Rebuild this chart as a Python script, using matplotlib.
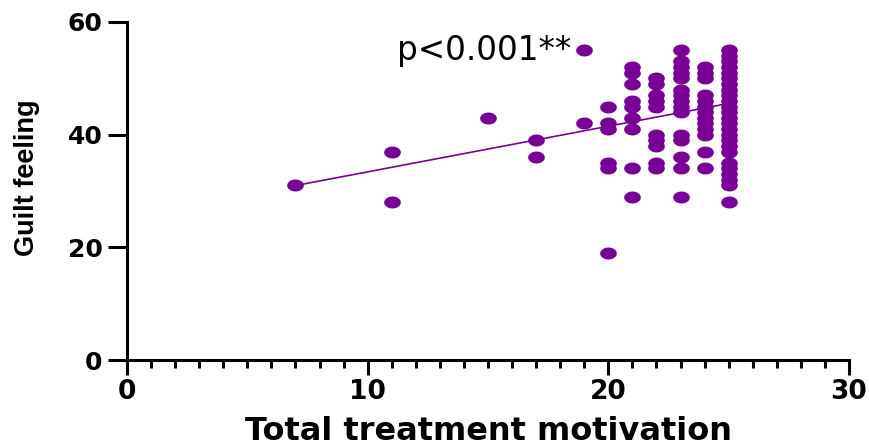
import matplotlib
matplotlib.use("Agg")
import matplotlib.pyplot as plt
from matplotlib.path import Path
import numpy as np

# values
x_vals = [7, 11, 11, 15, 17, 17, 19, 19]
y_vals = [31, 37, 28, 43, 39, 36, 55, 42]

col_x = [20, 21, 22, 23, 24, 25]
col_y = [
    [45, 42, 41, 35, 34, 19],
    [52, 51, 49, 46, 45, 43, 41, 34, 29],
    [50, 49, 47, 46, 45, 40, 39, 38, 35, 34],
    [55, 53, 52, 51, 50, 48, 47, 46, 45, 44, 40, 39, 36, 34, 29],
    [52, 51, 50, 47, 46, 45, 44, 43, 42, 41, 40, 37, 34],
    [55, 54, 53, 52, 51, 50, 49, 48, 47, 46, 45, 44, 43, 42, 41, 40, 39,
     38, 37, 35, 34, 33, 32, 31, 28],
]

fit_slope = 0.81
fit_intercept = 25.3

x_ticks = [0, 10, 20, 30]
y_ticks = [0, 20, 40, 60]
p_label = "p<0.001**"

purple = "#780096"

# flatten the stacked columns into one set of points
xs = list(x_vals)
ys = list(y_vals)
for cx, cy in zip(col_x, col_y):
    xs += [cx] * len(cy)
    ys += cy

# wide ellipse marker
theta = np.linspace(0, 2 * np.pi, 60)
ellipse = Path(np.column_stack([np.cos(theta) * 16, np.sin(theta) * 11.5]),
               closed=True)

fig = plt.figure(figsize=(8.7, 4.48), dpi=100)
ax = fig.add_axes([0.146, 0.1964, 0.8299, 0.7545])

ax.scatter(xs, ys, marker=ellipse, s=12 ** 2, color=purple,
           linewidths=0, zorder=3, clip_on=False)

fx = np.array([min(xs), max(xs)])
ax.plot(fx, fit_intercept + fit_slope * fx, color=purple, lw=1.2, zorder=2)

ax.set_xlim(0, 30)
ax.set_ylim(0, 60)
ax.set_xticks(x_ticks)
ax.set_yticks(y_ticks)
ax.set_xticks(np.arange(0, 31, 1), minor=True)

for side in ["top", "right"]:
    ax.spines[side].set_visible(False)
for side in ["left", "bottom"]:
    ax.spines[side].set_linewidth(2.2)
    ax.spines[side].set_color("black")

ax.tick_params(axis="x", which="major", length=11, width=2.2, pad=3,
               labelsize=19)
ax.tick_params(axis="x", which="minor", length=6, width=2.2)
ax.tick_params(axis="y", which="major", length=14, width=2.2, pad=3.5,
               labelsize=18)
for lab in ax.get_xticklabels() + ax.get_yticklabels():
    lab.set_fontweight("bold")

ax.set_xlabel("Total treatment motivation", fontsize=23, fontweight="bold")
ax.xaxis.label.set_va("baseline")
ax.xaxis.set_label_coords(0.5, (360 - 440) / 338)

fig.text(27 / 870, 1 - 178 / 448, "Guilt feeling", rotation=90,
         ha="center", va="center", fontsize=19.5, fontweight="bold",
         family=["Liberation Sans", "DejaVu Sans"])

ax.text(11.2, 53.3, p_label, fontsize=23.5, ha="left", va="baseline")

fig.savefig("out.png", dpi=100)
